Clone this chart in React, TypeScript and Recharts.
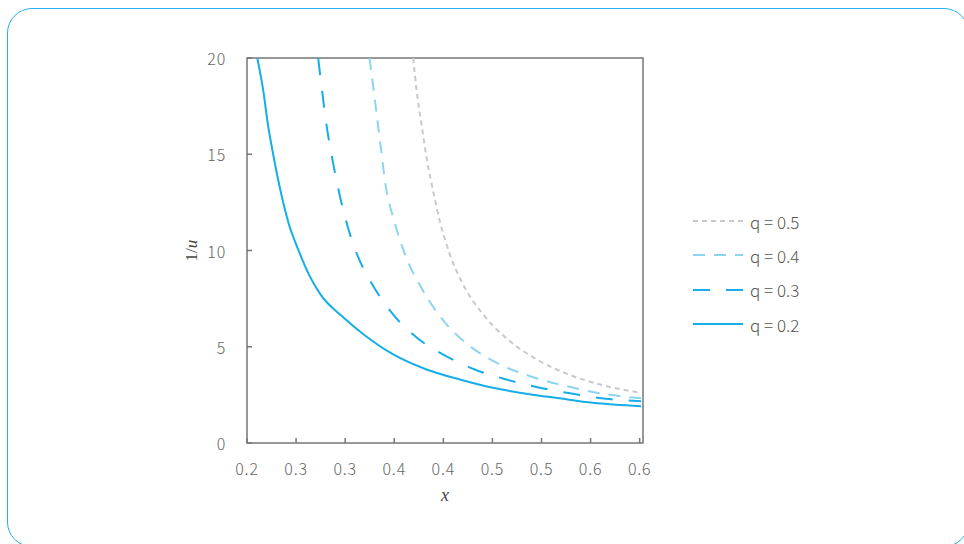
import { LineChart, Line, XAxis, YAxis, ReferenceArea } from "recharts";

const xTicks = [0.2, 0.25, 0.3, 0.35, 0.4, 0.45, 0.5, 0.55, 0.6];
const xTickLabels = ["0.2", "0.3", "0.3", "0.4", "0.4", "0.5", "0.5", "0.6", "0.6"];
const yTicks = [0, 5, 10, 15, 20];

// values
const q02 = [
  { x: 0.2105, y: 20 }, { x: 0.2166, y: 18.29 }, { x: 0.2213, y: 16.55 }, { x: 0.2267, y: 14.99 },
  { x: 0.2342, y: 13.09 }, { x: 0.2427, y: 11.36 }, { x: 0.2528, y: 9.97 }, { x: 0.263, y: 8.76 },
  { x: 0.2748, y: 7.72 }, { x: 0.2986, y: 6.51 }, { x: 0.3189, y: 5.64 }, { x: 0.349, y: 4.6 },
  { x: 0.3829, y: 3.82 }, { x: 0.4168, y: 3.3 }, { x: 0.4506, y: 2.87 }, { x: 0.4846, y: 2.56 },
  { x: 0.5184, y: 2.32 }, { x: 0.5522, y: 2.09 }, { x: 0.6015, y: 1.91 },
];
const q03 = [
  { x: 0.2725, y: 20 }, { x: 0.2765, y: 18.29 }, { x: 0.2809, y: 16.55 }, { x: 0.2867, y: 14.82 },
  { x: 0.2935, y: 13.09 }, { x: 0.3019, y: 11.36 }, { x: 0.3121, y: 9.8 }, { x: 0.3256, y: 8.42 },
  { x: 0.3459, y: 6.86 }, { x: 0.3731, y: 5.47 }, { x: 0.4018, y: 4.54 }, { x: 0.432, y: 3.82 },
  { x: 0.4642, y: 3.3 }, { x: 0.4981, y: 2.87 }, { x: 0.5319, y: 2.56 }, { x: 0.5658, y: 2.3 },
  { x: 0.6015, y: 2.17 },
];
const q04 = [
  { x: 0.3248, y: 20 }, { x: 0.3304, y: 17.77 }, { x: 0.3355, y: 15.69 }, { x: 0.3415, y: 13.3 },
  { x: 0.35, y: 11.53 }, { x: 0.361, y: 9.8 }, { x: 0.3795, y: 7.9 }, { x: 0.4033, y: 6.16 },
  { x: 0.4269, y: 5.04 }, { x: 0.4541, y: 4.17 }, { x: 0.4879, y: 3.48 }, { x: 0.5252, y: 2.96 },
  { x: 0.5624, y: 2.56 }, { x: 0.6015, y: 2.32 },
];
const q05 = [
  { x: 0.3693, y: 20 }, { x: 0.3728, y: 18.29 }, { x: 0.3778, y: 16.55 }, { x: 0.3829, y: 14.82 },
  { x: 0.3896, y: 13.09 }, { x: 0.3964, y: 11.53 }, { x: 0.4066, y: 9.8 }, { x: 0.4201, y: 8.24 },
  { x: 0.4405, y: 6.68 }, { x: 0.4676, y: 5.3 }, { x: 0.4981, y: 4.26 }, { x: 0.5319, y: 3.48 },
  { x: 0.5658, y: 2.96 }, { x: 0.6015, y: 2.61 },
];

const series = [
  { name: "q = 0.5", data: q05, color: "#c9c9c9", dash: "5 4" },
  { name: "q = 0.4", data: q04, color: "#8dd4f1", dash: "12 9" },
  { name: "q = 0.3", data: q03, color: "#15aee8", dash: "17 16" },
  { name: "q = 0.2", data: q02, color: "#15aee8", dash: undefined as string | undefined },
];

const tickFont = "'Noto Sans CJK KR', 'Noto Sans', sans-serif";
const axisColor = "#777";

const XTick = (props: any) => {
  const { x, y, index } = props;
  return (
    <g>
      <line x1={x} x2={x} y1={y} y2={y - 5} stroke={axisColor} strokeWidth={1.5} />
      <text x={x} y={y + 25} textAnchor="middle" dominantBaseline="central" fill="#666"
        fontSize={16} letterSpacing={0.8} fontFamily={tickFont} fontWeight={300}>
        {xTickLabels[index]}
      </text>
    </g>
  );
};

const YTick = (props: any) => {
  const { x, y, payload } = props;
  return (
    <g>
      <line x1={x} x2={x + 5} y1={y} y2={y} stroke={axisColor} strokeWidth={1.5} />
      <text x={x - 21} y={y} textAnchor="end" dominantBaseline="central" fill="#666"
        fontSize={16} letterSpacing={0.8} fontFamily={tickFont} fontWeight={300}>
        {payload.value}
      </text>
    </g>
  );
};

export default function App() {
  return (
    <div style={{ position: "fixed", left: 0, top: 0, width: 964, height: 544, overflow: "hidden", background: "#fff" }}>
      <div
        style={{
          position: "absolute", left: 7, top: 8, width: 960, height: 537,
          border: "1.5px solid #22b2ea", borderRadius: 25,
        }}
      />
      <div style={{ position: "absolute", left: 0, top: 0 }}>
        <LineChart width={964} height={544} margin={{ top: 58, right: 321, bottom: 41, left: 187 }}>
          <XAxis
            type="number"
            dataKey="x"
            domain={[0.2, 0.6034]}
            ticks={xTicks}
            allowDataOverflow
            axisLine={false}
            tickLine={false}
            tickSize={0}
            tickMargin={0}
            tick={<XTick />}
            height={60}
            label={(p: any) => {
              const vb = p.viewBox;
              return (
                <text x={vb.x + vb.width / 2} y={vb.y + 52} textAnchor="middle" dominantBaseline="central"
                  fontFamily="'Liberation Serif', 'DejaVu Serif', serif" fontStyle="italic" fontSize={18} fill="#444">
                  x
                </text>
              );
            }}
          />
          <YAxis
            type="number"
            domain={[0, 20]}
            ticks={yTicks}
            allowDataOverflow
            axisLine={false}
            tickLine={false}
            tickSize={0}
            tickMargin={0}
            tick={<YTick />}
            width={60}
            label={(p: any) => {
              const vb = p.viewBox;
              const cx = vb.x + 4;
              const cy = vb.y + vb.height / 2;
              return (
                <text x={cx} y={cy} transform={`rotate(-90 ${cx} ${cy})`} textAnchor="middle" dominantBaseline="central"
                  fontFamily="'Liberation Serif', 'DejaVu Serif', serif" fontSize={17} fill="#444">
                  1/<tspan fontStyle="italic">u</tspan>
                </text>
              );
            }}
          />
          <ReferenceArea x1={0.2} x2={0.6034} y1={0} y2={20} fill="none" stroke={axisColor} strokeWidth={1.5} />
          {series.map((s) => (
            <Line
              key={s.name}
              data={s.data}
              dataKey="y"
              name={s.name}
              type="monotone"
              stroke={s.color}
              strokeWidth={2}
              strokeDasharray={s.dash}
              dot={false}
              activeDot={false}
              isAnimationActive={false}
            />
          ))}
        </LineChart>
      </div>
      <div style={{ position: "absolute", left: 693, top: 204 }}>
        {series.map((s) => (
          <div key={s.name} style={{ display: "flex", alignItems: "center", height: 34.3 }}>
            <svg width={50} height={6} style={{ display: "block" }}>
              <line x1={0} x2={50} y1={3} y2={3} stroke={s.color} strokeWidth={2} strokeDasharray={s.dash} />
            </svg>
            <span style={{ marginLeft: 7, fontFamily: tickFont, fontWeight: 300, fontSize: 17, color: "#555" }}>
              {s.name}
            </span>
          </div>
        ))}
      </div>
    </div>
  );
}
